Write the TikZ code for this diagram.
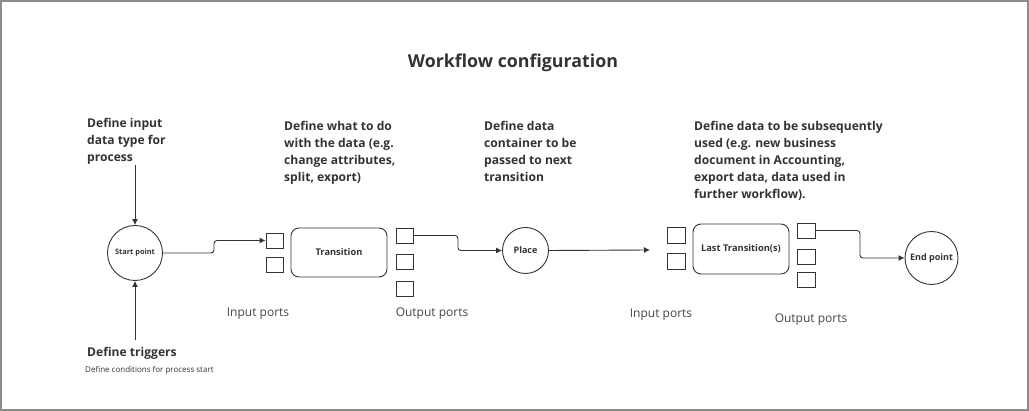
\documentclass[tikz,border=0pt]{standalone}
\usepackage{fontspec}
\setmainfont{Open Sans}
\usetikzlibrary{arrows.meta}
\definecolor{ink}{HTML}{333333}
\definecolor{lbl}{HTML}{444444}
\definecolor{frame}{HTML}{8C8C8C}
\begin{document}
\begin{tikzpicture}[x=1pt,y=-1pt,
  line/.style={draw=ink,line width=0.9pt},
  arr/.style={line,-{Latex[length=6pt,width=6pt]}},
  port/.style={draw=ink,line width=0.9pt,minimum width=17pt,minimum height=15pt,inner sep=0pt},
  circ/.style={draw=ink,line width=0.9pt,circle,inner sep=0pt,text=ink,font=\bfseries\fontsize{9}{10}\selectfont},
  trbox/.style={draw=ink,line width=0.9pt,rounded corners=8pt,minimum width=96pt,minimum height=49pt,inner sep=0pt,text=ink,font=\bfseries\fontsize{9.3}{11}\selectfont},
  desc/.style={anchor=north west,align=left,inner sep=0pt,text=ink,font=\bfseries\fontsize{12.1}{17}\selectfont},
  portlbl/.style={inner sep=0pt,text=lbl,font=\fontsize{12}{14}\selectfont}]
\useasboundingbox (0,0) rectangle (1029,411);
\draw[frame,line width=2pt] (1,1) rectangle (1028,410);

\node[inner sep=0pt,text=ink,font=\bfseries\fontsize{17.8}{20}\selectfont] (title) at (513,63) {Workflow configuration};

% descriptions
\node[desc] (d1) at (87,118.5) {Define input\\data type for\\process};
\node[desc] (d2) at (284,121.5) {Define what to do\\with the data (e.g.\\change attributes,\\split, export)};
\node[desc] (d3) at (484,121.5) {Define data\\container to be\\passed to next\\transition};
\node[desc] (d4) at (694,121.5) {Define data to be subsequently\\used (e.g. new business\\document in Accounting,\\export data, data used in\\further workflow).};
\node[desc,anchor=base west] (trig) at (87,357) {Define triggers};
\node[anchor=base west,inner sep=0pt,text=ink,font=\fontsize{8}{9}\selectfont] (cond) at (85,373) {Define conditions for process start};

% start
\node[circ,minimum size=55pt,font=\bfseries\fontsize{7.4}{9}\selectfont] (start) at (135,253) {Start point};
\coordinate (a1) at (135,165);
\coordinate (a2) at (135,340);
\draw[arr] (a1) -- (start.north);
\draw[arr] (a2) -- (start.south);

% first transition
\node[port] (in1) at (274.5,240.5) {};
\node[port] (in2) at (274.5,264.5) {};
\node[trbox] (trans) at (339,252.5) {Transition};
\node[port] (out1) at (404.5,235.5) {};
\node[port] (out2) at (404.5,261.5) {};
\node[port] (out3) at (404.5,288.5) {};
\draw[arr,rounded corners=3pt] (start.east) -- (214,253) |- (in1.west);

% place
\node[circ,minimum size=46pt] (place) at (525.5,250.5) {Place};
\draw[arr,rounded corners=3pt] (out1.east) -- (458,235.5) |- (place.west);
\coordinate (a3) at (650,250);
\draw[arr] (place.east) -- (a3);

% last transition
\node[port,minimum width=18pt,minimum height=16pt] (in3) at (676,235) {};
\node[port,minimum width=18pt,minimum height=16pt] (in4) at (676,261) {};
\node[trbox,minimum height=50pt] (last) at (741,249) {Last Transition(s)};
\node[port,minimum width=18pt] (out4) at (806,230.5) {};
\node[port,minimum width=18pt] (out5) at (806,256.5) {};
\node[port,minimum width=18pt] (out6) at (806,280) {};

% end
\node[circ,minimum size=53pt] (endp) at (931.5,258) {End point};
\draw[arr,rounded corners=3pt] (out4.east) -- (860,230.5) |- (endp.west);

% port labels
\node[portlbl] (l1) at (258,313.5) {Input ports};
\node[portlbl] (l2) at (432,313.5) {Output ports};
\node[portlbl] (l3) at (661,314.5) {Input ports};
\node[portlbl] (l4) at (811,319.5) {Output ports};
\end{tikzpicture}
\end{document}
